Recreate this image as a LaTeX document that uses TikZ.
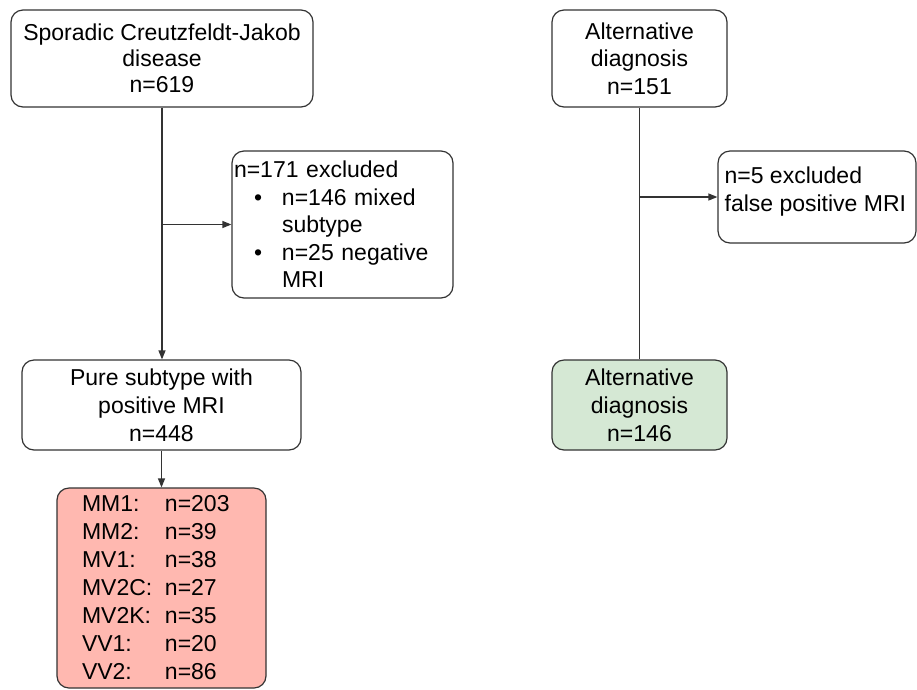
\documentclass[tikz,border=0pt]{standalone}
\usepackage{fontspec}
\setmainfont{Liberation Sans}
\usetikzlibrary{arrows.meta,calc}
\definecolor{pinkfill}{HTML}{FFB8B0}
\definecolor{greenfill}{HTML}{D5E8D4}
\definecolor{edgecol}{HTML}{333333}
\newcommand{\subrow}[2]{\makebox[83pt][l]{#1}#2}
\begin{document}
\begin{tikzpicture}[x=1pt,y=-1pt,
  box/.style={draw=edgecol, line width=1.2pt, rounded corners=12pt, fill=white,
    font=\fontsize{23}{27}\selectfont, inner sep=0pt, align=center},
  conn/.style={draw=edgecol, line width=1.2pt},
  tip/.style={-{Triangle[length=9pt,width=7pt]}},
  txt/.style={font=\fontsize{23}{28}\selectfont, inner sep=0pt, align=left}]
\useasboundingbox (0,0) rectangle (917,689);
\node[box, minimum width=302pt, minimum height=97pt, font=\fontsize{23}{26}\selectfont] (b1) at (162,58.5)
  {Sporadic Creutzfeldt-Jakob\\disease\\n=619};
\node[box, minimum width=221pt, minimum height=147pt, text width=217pt, inner xsep=2pt, align=left,
  font=\fontsize{23}{27.5}\selectfont] (b2) at (342.5,224.5)
  {n=171 excluded\\
   \hspace*{20pt}\makebox[28pt][l]{\textbullet}n=146 mixed\\
   \hspace*{48pt}subtype\\
   \hspace*{20pt}\makebox[28pt][l]{\textbullet}n=25 negative\\
   \hspace*{48pt}MRI};
\node[box, minimum width=279pt, minimum height=90pt, font=\fontsize{23}{28}\selectfont] (b3) at (161.5,405)
  {Pure subtype with\\positive MRI\\n=448};
\node[box, fill=pinkfill, minimum width=209pt, minimum height=200pt, text width=159pt, inner xsep=25pt,
  align=left, font=\fontsize{23}{28}\selectfont] (b4) at (161.5,588)
  {\subrow{MM1:}{n=203}\\
   \subrow{MM2:}{n=39}\\
   \subrow{MV1:}{n=38}\\
   \subrow{MV2C:}{n=27}\\
   \subrow{MV2K:}{n=35}\\
   \subrow{VV1:}{n=20}\\
   \subrow{VV2:}{n=86}};
\node[box, minimum width=175pt, minimum height=97pt, font=\fontsize{23}{27.5}\selectfont] (b5) at (639.5,58.5)
  {Alternative\\diagnosis\\n=151};
\node[box, minimum width=198pt, minimum height=92pt] (b6) at (817,197) {};
\node[txt, anchor=west] (t6) at ($(b6.west)+(7,-5)$) {n=5 excluded\\false positive MRI};
\node[box, fill=greenfill, minimum width=175pt, minimum height=90pt, font=\fontsize{23}{28}\selectfont] (b7) at (639.5,405)
  {Alternative\\diagnosis\\n=146};
\coordinate (j1) at (b1.south |- b2.west);
\coordinate (j2) at (b5.south |- b6.west);
\draw[conn,tip] (b1.south) -- (b1.south |- b3.north);
\draw[conn,tip] (j1) -- (b2.west);
\draw[conn,tip] (b3.south) -- (b4.north);
\draw[conn] (b5.south) -- (b7.north);
\draw[conn,tip] (j2) -- (b6.west);
\end{tikzpicture}
\end{document}
